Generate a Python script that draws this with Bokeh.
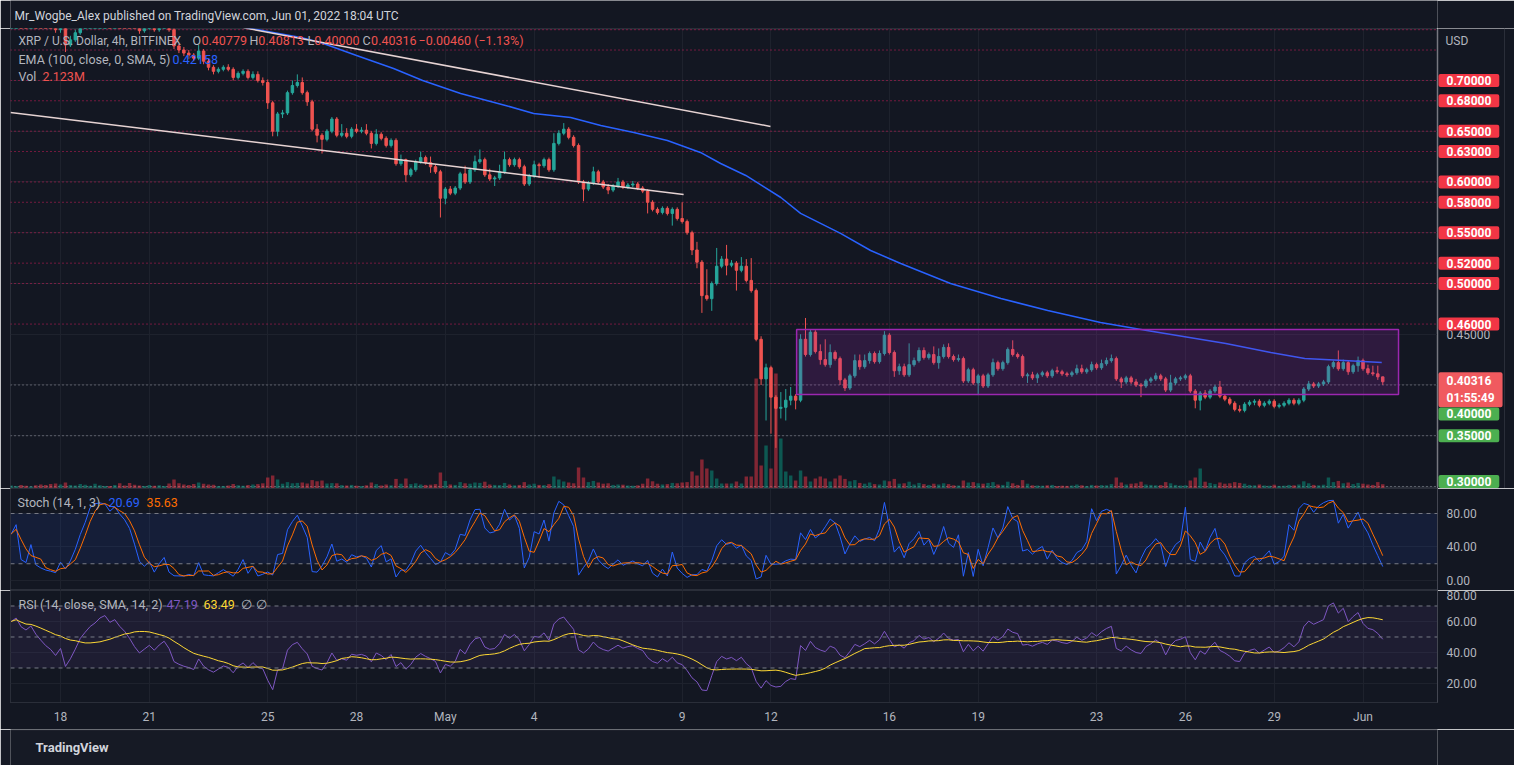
import numpy as np
import pandas as pd
from bokeh.plotting import figure
from bokeh.layouts import column, row
from bokeh.models import Range1d, FixedTicker, NumeralTickFormatter, Label, Span, BoxAnnotation
from bokeh.embed import file_html
from bokeh.resources import INLINE

# ---------------- data ----------------
# 4h candles, index 0 = 2022-04-16 00:00 UTC; first visible index = 2
FIRST_INDEX = 2
first_open = 0.770
closes = [
    0.772, 0.775, 0.770, 0.768, 0.771, 0.766, 0.762, 0.758, 0.755, 0.750,
    0.754, 0.735, 0.740, 0.747, 0.756, 0.762, 0.768, 0.772, 0.778, 0.781,
    0.776, 0.779, 0.774, 0.770, 0.764, 0.756, 0.749, 0.752, 0.755, 0.750,
    0.754, 0.757, 0.750, 0.734, 0.730, 0.727, 0.725, 0.722, 0.729, 0.719,
    0.713, 0.709, 0.711, 0.713, 0.711, 0.703, 0.707, 0.709, 0.703, 0.706,
    0.700, 0.698, 0.678, 0.650, 0.667, 0.668, 0.688, 0.695, 0.698, 0.688,
    0.679, 0.652, 0.646, 0.642, 0.650, 0.662, 0.646, 0.648, 0.645, 0.652,
    0.650, 0.651, 0.648, 0.638, 0.647, 0.643, 0.636, 0.641, 0.618, 0.622,
    0.607, 0.612, 0.620, 0.624, 0.619, 0.615, 0.610, 0.584, 0.593, 0.589,
    0.594, 0.608, 0.600, 0.612, 0.620, 0.622, 0.607, 0.603, 0.604, 0.610,
    0.622, 0.617, 0.622, 0.615, 0.598, 0.606, 0.617, 0.616, 0.622, 0.612,
    0.638, 0.648, 0.652, 0.644, 0.636, 0.600, 0.593, 0.599, 0.610, 0.600,
    0.595, 0.592, 0.596, 0.600, 0.595, 0.597, 0.598, 0.594, 0.591, 0.580,
    0.573, 0.570, 0.574, 0.569, 0.573, 0.564, 0.561, 0.550, 0.533, 0.521,
    0.488, 0.485, 0.500, 0.517, 0.524, 0.518, 0.520, 0.513, 0.517, 0.503,
    0.493, 0.445, 0.406, 0.417, 0.388, 0.377, 0.378, 0.385, 0.389, 0.385,
    0.445, 0.430, 0.452, 0.433, 0.425, 0.420, 0.432, 0.426, 0.405, 0.397,
    0.409, 0.424, 0.418, 0.424, 0.431, 0.423, 0.431, 0.449, 0.432, 0.414,
    0.418, 0.410, 0.420, 0.424, 0.434, 0.427, 0.430, 0.422, 0.428, 0.437,
    0.428, 0.425, 0.426, 0.404, 0.415, 0.402, 0.409, 0.399, 0.410, 0.422,
    0.416, 0.422, 0.435, 0.430, 0.428, 0.409, 0.410, 0.407, 0.410, 0.412,
    0.409, 0.414, 0.413, 0.411, 0.410, 0.412, 0.416, 0.413, 0.415, 0.420,
    0.417, 0.421, 0.424, 0.426, 0.406, 0.403, 0.407, 0.403, 0.400, 0.399,
    0.404, 0.406, 0.409, 0.406, 0.395, 0.402, 0.406, 0.407, 0.409, 0.394,
    0.385, 0.392, 0.388, 0.394, 0.398, 0.389, 0.386, 0.382, 0.376, 0.375,
    0.381, 0.383, 0.384, 0.380, 0.382, 0.384, 0.379, 0.380, 0.382, 0.385,
    0.382, 0.385, 0.396, 0.401, 0.399, 0.401, 0.403, 0.418, 0.422, 0.416,
    0.422, 0.413, 0.419, 0.424, 0.416, 0.412, 0.411, 0.408, 0.40316,
]
highs = [
    0.776, 0.779, 0.777, 0.773, 0.774, 0.773, 0.768, 0.765, 0.761, 0.757,
    0.757, 0.757, 0.744, 0.750, 0.760, 0.766, 0.771, 0.776, 0.782, 0.786,
    0.784, 0.782, 0.781, 0.776, 0.772, 0.766, 0.758, 0.755, 0.758, 0.757,
    0.757, 0.760, 0.759, 0.752, 0.736, 0.733, 0.730, 0.727, 0.735, 0.731,
    0.721, 0.715, 0.713, 0.715, 0.716, 0.713, 0.709, 0.711, 0.711, 0.709,
    0.709, 0.703, 0.701, 0.680, 0.669, 0.671, 0.690, 0.700, 0.706, 0.703,
    0.690, 0.681, 0.657, 0.648, 0.652, 0.664, 0.664, 0.657, 0.653, 0.654,
    0.657, 0.654, 0.657, 0.650, 0.652, 0.649, 0.645, 0.643, 0.643, 0.627,
    0.623, 0.614, 0.622, 0.630, 0.626, 0.625, 0.617, 0.612, 0.595, 0.596,
    0.596, 0.610, 0.616, 0.614, 0.626, 0.632, 0.624, 0.613, 0.606, 0.617,
    0.630, 0.624, 0.624, 0.624, 0.617, 0.608, 0.621, 0.619, 0.624, 0.624,
    0.648, 0.651, 0.658, 0.654, 0.646, 0.638, 0.602, 0.601, 0.615, 0.612,
    0.602, 0.598, 0.598, 0.604, 0.602, 0.599, 0.601, 0.600, 0.596, 0.593,
    0.582, 0.575, 0.576, 0.576, 0.575, 0.575, 0.580, 0.563, 0.552, 0.541,
    0.523, 0.514, 0.502, 0.535, 0.527, 0.538, 0.523, 0.522, 0.526, 0.524,
    0.525, 0.495, 0.448, 0.421, 0.419, 0.390, 0.393, 0.396, 0.398, 0.391,
    0.450, 0.466, 0.455, 0.454, 0.440, 0.445, 0.440, 0.434, 0.428, 0.407,
    0.411, 0.430, 0.430, 0.430, 0.433, 0.433, 0.434, 0.453, 0.451, 0.434,
    0.421, 0.421, 0.441, 0.427, 0.437, 0.437, 0.432, 0.438, 0.436, 0.440,
    0.441, 0.430, 0.430, 0.428, 0.417, 0.417, 0.411, 0.411, 0.412, 0.426,
    0.424, 0.424, 0.437, 0.444, 0.432, 0.430, 0.412, 0.413, 0.412, 0.414,
    0.414, 0.416, 0.418, 0.415, 0.413, 0.414, 0.420, 0.420, 0.417, 0.423,
    0.422, 0.425, 0.427, 0.430, 0.428, 0.408, 0.409, 0.409, 0.406, 0.402,
    0.406, 0.408, 0.412, 0.411, 0.408, 0.410, 0.408, 0.409, 0.411, 0.411,
    0.396, 0.394, 0.395, 0.396, 0.400, 0.404, 0.391, 0.388, 0.384, 0.380,
    0.383, 0.385, 0.386, 0.386, 0.384, 0.386, 0.386, 0.382, 0.384, 0.387,
    0.387, 0.387, 0.398, 0.404, 0.403, 0.403, 0.405, 0.420, 0.424, 0.434,
    0.425, 0.424, 0.421, 0.428, 0.426, 0.420, 0.419, 0.419, 0.40813,
]
lows = [
    0.767, 0.770, 0.767, 0.765, 0.765, 0.763, 0.759, 0.755, 0.752, 0.747,
    0.747, 0.728, 0.733, 0.738, 0.745, 0.754, 0.760, 0.765, 0.770, 0.775,
    0.773, 0.773, 0.771, 0.767, 0.761, 0.753, 0.746, 0.747, 0.750, 0.748,
    0.748, 0.752, 0.748, 0.731, 0.727, 0.724, 0.721, 0.719, 0.720, 0.716,
    0.710, 0.706, 0.707, 0.709, 0.709, 0.700, 0.701, 0.705, 0.701, 0.701,
    0.698, 0.695, 0.672, 0.645, 0.645, 0.663, 0.666, 0.686, 0.693, 0.686,
    0.675, 0.650, 0.639, 0.628, 0.640, 0.648, 0.644, 0.644, 0.643, 0.643,
    0.648, 0.648, 0.646, 0.633, 0.636, 0.641, 0.634, 0.634, 0.616, 0.616,
    0.600, 0.605, 0.610, 0.618, 0.617, 0.609, 0.608, 0.565, 0.578, 0.587,
    0.587, 0.592, 0.598, 0.598, 0.610, 0.618, 0.605, 0.601, 0.596, 0.602,
    0.608, 0.615, 0.615, 0.613, 0.596, 0.596, 0.604, 0.604, 0.614, 0.610,
    0.610, 0.636, 0.646, 0.642, 0.634, 0.598, 0.581, 0.591, 0.597, 0.598,
    0.593, 0.588, 0.590, 0.594, 0.593, 0.593, 0.595, 0.592, 0.589, 0.569,
    0.571, 0.568, 0.568, 0.567, 0.557, 0.562, 0.559, 0.548, 0.528, 0.515,
    0.471, 0.483, 0.473, 0.498, 0.515, 0.508, 0.516, 0.493, 0.511, 0.501,
    0.491, 0.443, 0.400, 0.365, 0.352, 0.338, 0.367, 0.365, 0.380, 0.376,
    0.383, 0.428, 0.428, 0.431, 0.420, 0.418, 0.417, 0.424, 0.400, 0.394,
    0.395, 0.407, 0.415, 0.416, 0.421, 0.421, 0.421, 0.429, 0.430, 0.408,
    0.410, 0.408, 0.408, 0.418, 0.422, 0.425, 0.425, 0.420, 0.416, 0.426,
    0.426, 0.423, 0.423, 0.402, 0.402, 0.400, 0.390, 0.397, 0.397, 0.408,
    0.414, 0.414, 0.420, 0.428, 0.426, 0.407, 0.402, 0.405, 0.402, 0.408,
    0.407, 0.407, 0.411, 0.409, 0.408, 0.408, 0.410, 0.411, 0.411, 0.413,
    0.415, 0.415, 0.419, 0.422, 0.404, 0.397, 0.401, 0.401, 0.398, 0.388,
    0.397, 0.402, 0.404, 0.404, 0.393, 0.393, 0.400, 0.404, 0.405, 0.392,
    0.377, 0.375, 0.386, 0.386, 0.392, 0.387, 0.384, 0.380, 0.374, 0.373,
    0.373, 0.379, 0.380, 0.378, 0.378, 0.380, 0.377, 0.377, 0.378, 0.380,
    0.380, 0.380, 0.383, 0.394, 0.397, 0.397, 0.399, 0.401, 0.416, 0.414,
    0.414, 0.410, 0.411, 0.413, 0.414, 0.410, 0.409, 0.405, 0.40000,
]
volumes_m = [
    1.5, 1.2, 1.8, 1.4, 1.0, 1.6, 2.0, 1.7, 2.2, 2.5,
    2.0, 3.0, 1.8, 1.5, 2.2, 1.9, 1.4, 2.4, 1.6, 1.3,
    1.2, 1.8, 2.6, 1.5, 2.8, 1.9, 1.5, 1.3, 1.7, 1.4,
    1.6, 1.2, 2.5, 4.5, 2.6, 2.0, 1.8, 2.2, 3.0, 2.4,
    2.0, 1.9, 1.3, 1.2, 1.5, 2.3, 1.6, 1.4, 1.8, 2.0,
    2.2, 2.6, 5.5, 6.5, 4.5, 2.4, 3.2, 2.6, 2.8, 3.0,
    2.5, 4.2, 3.6, 4.0, 2.5, 2.7, 2.6, 1.7, 1.5, 1.8,
    1.4, 1.2, 1.6, 3.0, 2.2, 1.5, 2.0, 1.6, 4.8, 2.4,
    5.0, 2.2, 2.6, 2.0, 1.8, 1.9, 2.2, 8.0, 3.8, 2.0,
    1.8, 3.2, 2.6, 2.4, 3.0, 2.8, 3.4, 2.0, 1.8, 1.7,
    2.8, 2.0, 1.6, 1.8, 3.2, 2.0, 2.4, 1.8, 1.7, 2.2,
    6.0, 4.5, 3.5, 3.0, 2.6, 10.5, 5.5, 3.2, 3.8, 3.0,
    2.4, 2.6, 1.8, 2.0, 1.9, 1.5, 1.4, 1.6, 2.4, 5.0,
    3.6, 2.4, 2.0, 2.2, 2.8, 2.6, 3.0, 3.2, 8.5, 6.5,
    14.5, 10.0, 9.0, 5.0, 2.5, 2.5, 2.5, 3.5, 2.5, 6.0,
    6.0, 55.0, 11.5, 21.5, 10.0, 57.5, 25.0, 8.5, 6.5, 4.0,
    9.0, 6.0, 3.5, 5.0, 6.0, 5.0, 3.5, 5.0, 6.5, 4.8,
    3.6, 4.2, 2.8, 2.4, 3.0, 2.2, 2.0, 4.0, 3.6, 4.8,
    2.4, 2.6, 3.4, 2.0, 2.8, 2.2, 1.8, 2.4, 2.0, 2.6,
    2.2, 1.6, 1.5, 4.0, 3.0, 3.2, 2.6, 2.4, 2.8, 3.2,
    2.0, 1.8, 3.4, 2.6, 1.8, 4.2, 2.4, 1.6, 1.5, 1.4,
    1.6, 1.8, 1.2, 1.4, 1.3, 1.5, 2.0, 1.6, 1.2, 1.8,
    1.5, 1.7, 1.6, 2.2, 5.5, 3.0, 2.0, 2.4, 2.6, 3.4,
    2.0, 1.8, 1.6, 1.7, 3.2, 2.6, 1.8, 1.5, 1.6, 4.0,
    5.5, 10.0, 3.4, 2.8, 2.2, 3.0, 2.4, 2.6, 3.2, 2.8,
    2.4, 1.8, 1.6, 2.0, 1.5, 1.4, 1.9, 1.3, 1.4, 1.8,
    1.6, 2.0, 3.6, 2.6, 1.8, 1.6, 1.9, 5.5, 3.2, 3.8,
    2.6, 3.0, 2.2, 2.8, 2.4, 2.0, 1.8, 3.2, 2.123,
]

# EMA(100) (candle index, price)
ema_idx = [49.5, 60.7, 64.7, 72.0, 79.5, 85.4, 93.1, 102.2, 107.9, 115.4, 121.5,
           128.2, 135.0, 141.7, 145.8, 150.9, 158.0, 162.0, 170.1, 176.2, 182.3,
           192.4, 202.6, 212.1, 222.8, 232.2, 248.2, 257.3, 264.2, 272.1, 279.8]
ema_val = [0.7522, 0.7424, 0.7374, 0.7246, 0.7118, 0.7000, 0.6872, 0.6754, 0.6675,
           0.6635, 0.6557, 0.6488, 0.6409, 0.6291, 0.6182, 0.6064, 0.5847, 0.5690,
           0.5493, 0.5325, 0.5197, 0.5000, 0.4852, 0.4734, 0.4616, 0.4537, 0.4409,
           0.4320, 0.4261, 0.4241, 0.4222]

# drawings
upper_tl_idx = [49.1, 155.9]
upper_tl_val = [0.7520, 0.6547]
lower_tl_idx = [1.86, 138.3]
lower_tl_val = [0.6685, 0.5877]
box_idx = [161.2, 283.2]
box_val = [0.3906, 0.4547]
resistance_levels = [0.75, 0.73, 0.70, 0.68, 0.65, 0.63, 0.60, 0.58, 0.55, 0.52, 0.50, 0.46]
resistance_tags = [0.70, 0.68, 0.65, 0.63, 0.60, 0.58, 0.55, 0.52, 0.50, 0.46]
support_levels = [0.40, 0.35, 0.30]
support_tag_shift = [-29, 0, 5]
last_price = 0.40316
rsi_seed = [0.0024, 0.0017]   # Wilder averages before first visible candle

day_ticks = [12, 30, 54, 72, 90, 108, 138, 156, 180, 198, 222, 240, 258, 276]
day_labels = ["18", "21", "25", "28", "May", "4", "9", "12", "16", "19", "23", "26", "29", "Jun"]
price_ticks = [0.35, 0.40, 0.45, 0.50, 0.55, 0.60, 0.65, 0.70]
price_grid = [0.30, 0.35, 0.40, 0.45, 0.50, 0.55, 0.60, 0.65, 0.70, 0.75]

# ---------------- derived ----------------
n = len(closes)
idx = np.arange(FIRST_INDEX, FIRST_INDEX + n)
o = np.array([first_open] + closes[:-1])
c = np.array(closes)
h = np.array(highs)
l = np.array(lows)
vol = np.array(volumes_m)
up = c >= o
UP, DN = "#26a69a", "#ef5350"
cols = np.where(up, UP, DN).tolist()
vcols = np.where(up, "#089981", "#f23645").tolist()

cs = pd.Series(c)
hh = pd.Series(h).rolling(14, min_periods=1).max()
ll = pd.Series(l).rolling(14, min_periods=1).min()
stoch_k = (100 * (cs - ll) / (hh - ll)).fillna(50)
stoch_d = stoch_k.rolling(3, min_periods=1).mean()

ag, al = rsi_seed
prev = first_open
rsi_vals = []
for ci in c:
    ch = ci - prev
    prev = ci
    ag = (ag * 13 + max(ch, 0)) / 14
    al = (al * 13 + max(-ch, 0)) / 14
    rsi_vals.append(100 * ag / (ag + al))
rsi = pd.Series(rsi_vals)
rsi_ma = rsi.rolling(14, min_periods=1).mean()

# ---------------- styling ----------------
BG = "#131722"
GRID = "#1e222d"
TXT = "#b2b5be"
FONT = "Roboto"
W = 1514
LEFT = 10
AXW = 77
xr = Range1d(1.86, 291.1)
price_yr = Range1d(0.2980, 0.7512)


def plain_fig(width, height, xrng, yrng, bg=BG):
    p = figure(width=width, height=height, x_range=xrng, y_range=yrng,
               output_backend="svg", toolbar_location=None,
               x_axis_location=None, y_axis_location=None,
               min_border_left=0, min_border_right=0, min_border_top=0, min_border_bottom=0,
               background_fill_color=bg, border_fill_color=bg)
    p.outline_line_color = None
    p.grid.visible = False
    return p


def style_yaxis(ya):
    ya.axis_line_color = "#434651"
    ya.major_tick_line_color = None
    ya.minor_tick_line_color = None
    ya.major_tick_out = 0
    ya.major_tick_in = 0
    ya.major_label_standoff = 9
    ya.major_label_text_font = FONT
    ya.major_label_text_font_size = "12px"
    ya.major_label_text_color = TXT


def pane_fig(width, height, yr, right, bottom, xaxis, yaxis):
    p = figure(width=width, height=height, x_range=xr, y_range=yr,
               output_backend="svg", toolbar_location=None,
               y_axis_location="right" if yaxis else None,
               x_axis_location="below" if xaxis else None,
               min_border_left=LEFT, min_border_right=right,
               min_border_top=0, min_border_bottom=bottom,
               background_fill_color=BG, border_fill_color=BG)
    p.outline_line_color = "#2a2e39"
    p.xgrid.ticker = FixedTicker(ticks=day_ticks)
    p.xgrid.grid_line_color = GRID
    p.ygrid.grid_line_color = GRID
    if yaxis:
        style_yaxis(p.yaxis[0])
    if xaxis:
        xa = p.xaxis[0]
        xa.ticker = FixedTicker(ticks=day_ticks)
        xa.major_label_overrides = {t: s for t, s in zip(day_ticks, day_labels)}
        xa.axis_line_color = "#2a2e39"
        xa.major_tick_line_color = None
        xa.minor_tick_line_color = None
        xa.major_tick_out = 0
        xa.major_tick_in = 0
        xa.major_label_standoff = 7
        xa.major_label_text_font = FONT
        xa.major_label_text_font_size = "12px"
        xa.major_label_text_color = TXT
    return p


def txt(p, x, y, text, color, size="13px", style="normal", xu="screen", yu="screen", **kw):
    p.add_layout(Label(x=x, y=y, x_units=xu, y_units=yu, text=text,
                       text_color=color, text_font=FONT, text_font_size=size,
                       text_font_style=style, text_baseline="middle",
                       text_align="left", **kw))


# ---------------- header ----------------
ph = plain_fig(W, 28, Range1d(0, 1), Range1d(0, 1))
txt(ph, 4, 13, "Mr_Wogbe_Alex published on TradingView.com, Jun 01, 2022 18:04 UTC",
    "#d1d4dc", size="12px")

# ---------------- price pane ----------------
p1 = pane_fig(W - AXW, 460, price_yr, 0, 0, False, False)
p1.extra_y_ranges = {"vol": Range1d(0, 230)}
p1.ygrid.ticker = FixedTicker(ticks=price_grid)

for lv in resistance_levels:
    p1.add_layout(Span(location=lv, dimension="width", line_color="#e91e63",
                       line_alpha=0.9, line_dash="1 3", line_width=1, level="underlay"))
for lv in support_levels:
    p1.add_layout(Span(location=lv, dimension="width", line_color="#b2b5be",
                       line_alpha=0.85, line_dash="1 3", line_width=1, level="underlay"))

p1.vbar(x=idx, top=vol, bottom=0, width=0.7, fill_color=vcols, fill_alpha=0.5,
        line_color=None, y_range_name="vol")
p1.segment(x0=idx, y0=l, x1=idx, y1=h, line_color=cols, line_width=1)
p1.vbar(x=idx, top=np.maximum(o, c), bottom=np.minimum(o, c), width=0.5,
        fill_color=cols, line_color=cols, line_width=1)
p1.line(ema_idx, ema_val, line_color="#2962ff", line_width=1.5)
p1.line(upper_tl_idx, upper_tl_val, line_color="#e6d3d3", line_width=1.5)
p1.line(lower_tl_idx, lower_tl_val, line_color="#e6d3d3", line_width=1.5)
p1.quad(left=[box_idx[0]], right=[box_idx[1]], bottom=[box_val[0]], top=[box_val[1]],
        fill_color="#9c27b0", fill_alpha=0.2, line_color="#9c27b0", line_width=1.5)

# legend
txt(p1, 8, 448, "XRP / U.S. Dollar, 4h, BITFINEX", TXT, size="12px")
for letter, val, xs, lw in [("O", "0.40779", 182, 9.0), ("H", "0.40813", 239, 8.8),
                            ("L", "0.40000", 297, 6.7), ("C", "0.40316", 352, 8.6)]:
    txt(p1, xs, 448, letter, TXT, size="12.5px")
    txt(p1, xs + lw, 448, val, "#ef5350", size="12.5px")
txt(p1, 408, 448, "\u22120.00460 (\u22121.13%)", "#ef5350", size="12.5px")
txt(p1, 8, 429, "EMA (100, close, 0, SMA, 5)", TXT, size="12.5px")
txt(p1, 162, 429, "0.42158", "#2962ff", size="12.5px")
txt(p1, 8, 412, "Vol", TXT, size="12.5px")
txt(p1, 32, 412, "2.123M", "#ef5350", size="12.5px")

# price axis column (shares the price scale)
pa = plain_fig(AXW, 460, Range1d(0, AXW), price_yr)
pa.add_layout(Span(location=0.5, dimension="height", line_color="#434651", line_width=1))
pa.add_layout(Span(location=67, dimension="height", line_color="#2a2e39", line_width=1))
for lv in price_ticks:
    txt(pa, 9, lv, f"{lv:.5f}", TXT, size="12px", xu="data", yu="data")
for lv in resistance_tags:
    txt(pa, 1, lv, f"{lv:.5f}", "#ffffff", size="12px", style="bold", xu="data", yu="data",
        background_fill_color="#f23645", padding=(8, 2), border_radius=2)
txt(pa, 1, last_price, "0.40316\n01:55:49", "#ffffff", size="12px", style="bold",
    xu="data", yu="data", y_offset=-8, background_fill_color="#f05a5f",
    padding=(8, 2), border_radius=2)
for lv, off in zip(support_levels, support_tag_shift):
    txt(pa, 1, lv, f"{lv:.5f}", "#ffffff", size="12px", style="bold", xu="data", yu="data",
        y_offset=off, background_fill_color="#4caf50", padding=(8, 2), border_radius=2)
txt(pa, 8, 448, "USD", TXT, size="12px")

# ---------------- stochastic pane ----------------
p2 = pane_fig(W, 102, Range1d(-11.94, 109.85), AXW, 0, False, True)
p2.yaxis[0].ticker = FixedTicker(ticks=[0, 40, 80])
p2.yaxis[0].formatter = NumeralTickFormatter(format="0.00")
p2.ygrid.ticker = FixedTicker(ticks=[0, 40, 80])
p2.add_layout(BoxAnnotation(bottom=20, top=80, fill_color="#2962ff", fill_alpha=0.1,
                            line_color=None, level="underlay"))
for lv in [80, 20]:
    p2.add_layout(Span(location=lv, dimension="width", line_color="#787b86",
                       line_dash="4 4", line_width=1))
p2.line(idx, stoch_k, line_color="#2962ff", line_width=1)
p2.line(idx, stoch_d, line_color="#ff6d00", line_width=1)
txt(p2, 7, 88, "Stoch (14, 1, 3)", TXT, size="12.5px")
txt(p2, 98, 88, "20.69", "#2962ff", size="12.5px")
txt(p2, 136, 88, "35.63", "#ff6d00", size="12.5px")

# ---------------- RSI pane ----------------
p3 = pane_fig(W, 139, Range1d(7.74, 80.0), AXW, 27, True, True)
p3.yaxis[0].ticker = FixedTicker(ticks=[20, 40, 60, 80])
p3.yaxis[0].formatter = NumeralTickFormatter(format="0.00")
p3.ygrid.ticker = FixedTicker(ticks=[20, 40, 60])
p3.add_layout(BoxAnnotation(bottom=30, top=70, fill_color="#7e57c2", fill_alpha=0.1,
                            line_color=None, level="underlay"))
for lv in [70, 50, 30]:
    p3.add_layout(Span(location=lv, dimension="width", line_color="#787b86",
                       line_dash="4 4", line_width=1))
p3.line(idx, rsi, line_color="#7e57c2", line_width=1)
p3.line(idx, rsi_ma, line_color="#fdd835", line_width=1)
txt(p3, 8, 98, "RSI (14, close, SMA, 14, 2)", TXT, size="12.5px")
txt(p3, 156, 98, "47.19", "#7e57c2", size="12.5px")
txt(p3, 193, 98, "63.49", "#fdd835", size="12.5px")
txt(p3, 230, 98, "\u2205", TXT, size="12.5px")
txt(p3, 245, 98, "\u2205", TXT, size="12.5px")

# ---------------- footer ----------------
pf = plain_fig(W, 36, Range1d(0, 1), Range1d(0, 1), bg="#161a25")
pf.add_layout(Span(location=0.99, dimension="width", line_color="#2a2e39", line_width=1))
txt(pf, 25, 18, "TradingView", "#d1d4dc", size="13px", style="bold")

layout = column(ph, row(p1, pa, spacing=0), p2, p3, pf, spacing=0)
open("out.html", "w").write(file_html(layout, INLINE))
